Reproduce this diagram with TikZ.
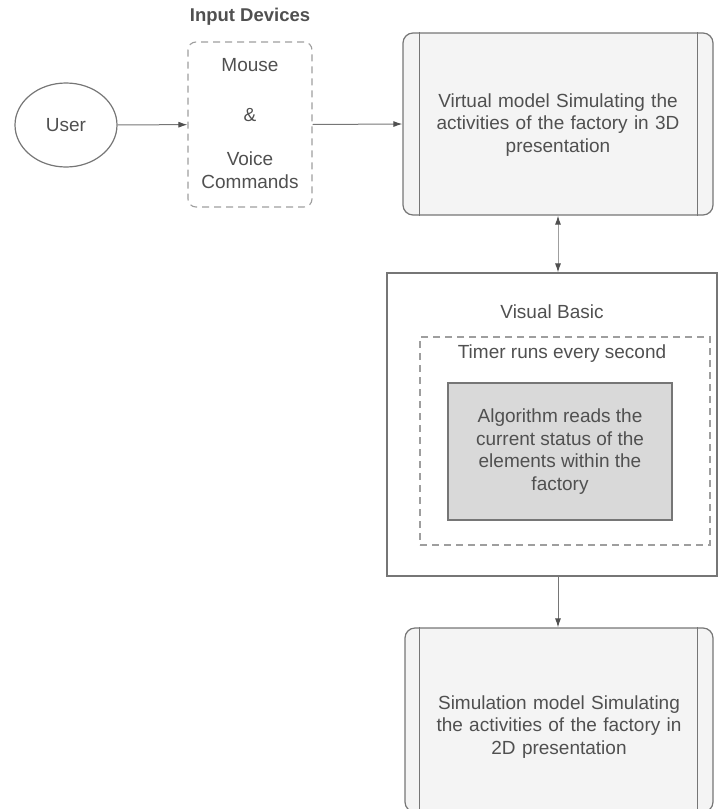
\documentclass[tikz,border=0pt]{standalone}
\usepackage{fontspec}
\setmainfont{Liberation Sans}
\usetikzlibrary{arrows.meta,shapes.geometric}
\definecolor{linegray}{HTML}{767676}
\definecolor{tipgray}{HTML}{505050}
\definecolor{dashgray}{HTML}{9E9E9E}
\definecolor{txtgray}{HTML}{505050}
\definecolor{paleFill}{HTML}{F4F4F4}
\definecolor{algoFill}{HTML}{D9D9D9}
\begin{document}
\begin{tikzpicture}[x=1pt,y=-1pt,
  every node/.style={text=txtgray, font=\fontsize{19}{22.5}\selectfont},
  tip/.tip={Latex[length=9pt,width=6pt,color=tipgray]},
  conn/.style={draw=linegray, line width=1pt, -tip},
  procbox/.style={draw=linegray, line width=1.2pt, fill=paleFill, rounded corners=10pt, inner sep=0pt},
  plainbox/.style={draw=linegray, line width=1.1pt, inner sep=0pt},
  dashbox/.style={draw=dashgray, line width=1.1pt, dash pattern=on 7pt off 5pt, inner sep=0pt},
  txt/.style={align=center, inner sep=0pt}
]
\useasboundingbox (0,0) rectangle (718,809);
\clip (0,0) rectangle (718,809);

% user
\node[ellipse, draw=linegray, line width=1.2pt, minimum width=102pt, minimum height=84pt] (user) at (66,125) {User};

% input devices
\node[txt, font=\fontsize{18.5}{22}\selectfont\bfseries] (inputtitle) at (250,17) {Input Devices};
\node[dashbox, rounded corners=8pt, minimum width=124pt, minimum height=165pt] (input) at (250,124.5) {};
\node[txt] (mouse) at (250,65) {Mouse};
\node[txt] (amp) at (250,115) {\&};
\node[txt] (voice) at (250,170) {Voice\\Commands};

% 3D model
\node[procbox, minimum width=310pt, minimum height=182pt] (virt) at (558,124) {};
\draw[linegray, line width=1.1pt] ([xshift=17pt]virt.north west) -- ([xshift=17pt]virt.south west);
\draw[linegray, line width=1.1pt] ([xshift=-16pt]virt.north east) -- ([xshift=-16pt]virt.south east);
\node[txt, text width=275pt] (virttext) at (558,125) {Virtual model Simulating the\\activities of the factory in 3D\\presentation};

% visual basic block
\node[plainbox, minimum width=330pt, minimum height=303pt] (vb) at (552,424.5) {};
\node[txt] (vbtitle) at (552,312) {Visual Basic};
\node[dashbox, minimum width=290pt, minimum height=208pt] (timer) at (565,441) {};
\node[txt] (timertext) at (562,354) {Timer runs every second};
\node[plainbox, fill=algoFill, minimum width=224pt, minimum height=137pt, align=center] (algo) at (560,451.5) {Algorithm reads the\\current status of the\\elements within the\\factory};

% 2D model
\node[procbox, minimum width=308pt, minimum height=184pt] (sim) at (559,720) {};
\draw[linegray, line width=1.1pt] ([xshift=15pt]sim.north west) -- ([xshift=15pt]sim.south west);
\draw[linegray, line width=1.1pt] ([xshift=-16pt]sim.north east) -- ([xshift=-16pt]sim.south east);
\node[txt, text width=275pt] (simtext) at (559,727) {Simulation model Simulating\\the activities of the factory in\\2D presentation};

% connectors
\draw[conn] (user) -- (input);
\draw[conn] (input.east) -- (virt.west);
\draw[conn, tip-tip, draw=linegray!70] (virt.south) -- (virt.south |- vb.north);
\draw[conn] (virt.south |- vb.south) -- (virt.south |- sim.north);
\end{tikzpicture}
\end{document}
